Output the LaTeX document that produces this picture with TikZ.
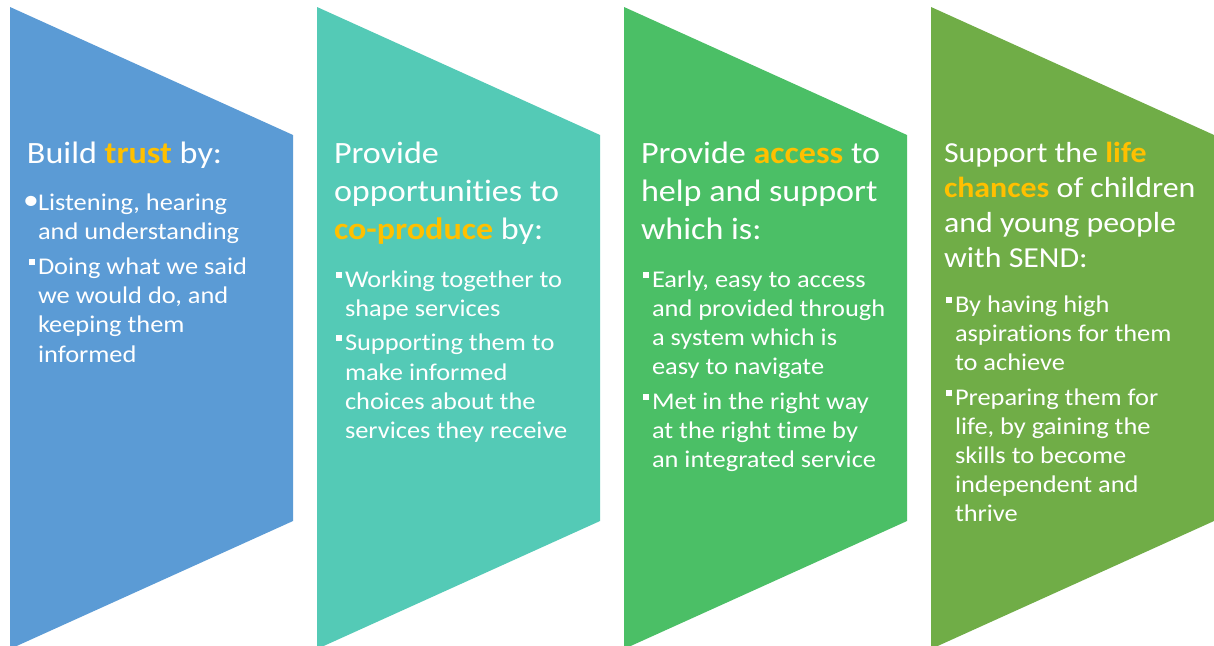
\documentclass[tikz,border=0pt]{standalone}
\usepackage{fontspec}
\setmainfont{Carlito}[FakeStretch=1.1, Ligatures=CommonOff]
\definecolor{panelblue}{HTML}{5B9BD5}
\definecolor{panelteal}{HTML}{54CAB6}
\definecolor{panelgreen}{HTML}{4BBF66}
\definecolor{panelolive}{HTML}{70AD47}
\definecolor{keyword}{HTML}{FFC000}

% highlighted key word
\newcommand{\kw}[1]{\textbf{\textcolor{keyword}{#1}}}
% list markers
\newcommand{\sqmark}{\hspace{0.5pt}\raisebox{9.5pt}{\rule{6pt}{6pt}}}
\newcommand{\dotmark}{\makebox[6pt][c]{\raisebox{1pt}{\scalebox{1.2}{\textbullet}}}}
% one list entry with hanging indent; \\ breaks a line inside the entry
\newcommand{\entry}[2]{\par\begingroup\let\\\newline
  \hangindent=10pt\hangafter=1\noindent\makebox[10pt][l]{#1}#2\par\endgroup}
% a text block whose first baseline sits on the node's base
\newcommand{\titleblock}[3]{\begin{minipage}[t]{280pt}\raggedright\fontsize{#1}{#2}\selectfont #3\end{minipage}}
\newcommand{\listblock}[1]{\begin{minipage}[t]{280pt}\fontsize{24}{29.2}\selectfont\parskip=5.5pt\parindent=0pt\rightskip=0pt plus 1fil #1\end{minipage}}

\tikzset{
  panel/.style={fill=#1, draw=none},
  txt/.style={anchor=base west, inner sep=0pt, outer sep=0pt, text=white}
}

\begin{document}
\begin{tikzpicture}[x=1pt, y=-1pt]
\useasboundingbox (0,0) rectangle (1214,645);
\fill[white] (0,0) rectangle (1214,645);
\clip (0,0) rectangle (1214,645);

% four chevron panels
\foreach \L/\c in {10/panelblue, 317/panelteal, 624/panelgreen, 931/panelolive}{
  \path[panel=\c] (\L,7) -- (\L+283,135) -- (\L+283,521) -- (\L,649) -- cycle;
}

% panel 1
\node[txt] (t1) at (27,163) {\titleblock{31}{38.3}{Build \kw{trust} by:}};
\node[txt] (b1) at (28,210.5) {\listblock{%
  \entry{\dotmark}{Listening, hearing\\and understanding}
  \entry{\sqmark}{Doing what we said\\we would do, and\\keeping them\\informed}}};

% panel 2
\node[txt] (t2) at (334,163) {\titleblock{31}{38.3}{Provide\\opportunities to\\\kw{co-produce} by:}};
\node[txt] (b2) at (335,287) {\listblock{%
  \entry{\sqmark}{Working together to\\shape services}
  \entry{\sqmark}{Supporting them to\\make informed\\choices about the\\services they receive}}};

% panel 3
\node[txt] (t3) at (641,163) {\titleblock{31}{38.3}{Provide \kw{access} to\\help and support\\which is:}};
\node[txt] (b3) at (642,287) {\listblock{%
  \entry{\sqmark}{Early, easy to access\\and provided through\\a system which is\\easy to navigate}
  \entry{\sqmark}{Met in the right way\\at the right time by\\an integrated service}}};

% panel 4
\node[txt] (t4) at (944,162) {\titleblock{29}{35}{Support the \kw{life}\\\kw{chances} of children\\and young people\\with SEND:}};
\node[txt] (b4) at (945,312) {\listblock{%
  \entry{\sqmark}{By having high\\aspirations for them\\to achieve}
  \entry{\sqmark}{Preparing them for\\life, by gaining the\\skills to become\\independent and\\thrive}}};
\end{tikzpicture}
\end{document}
